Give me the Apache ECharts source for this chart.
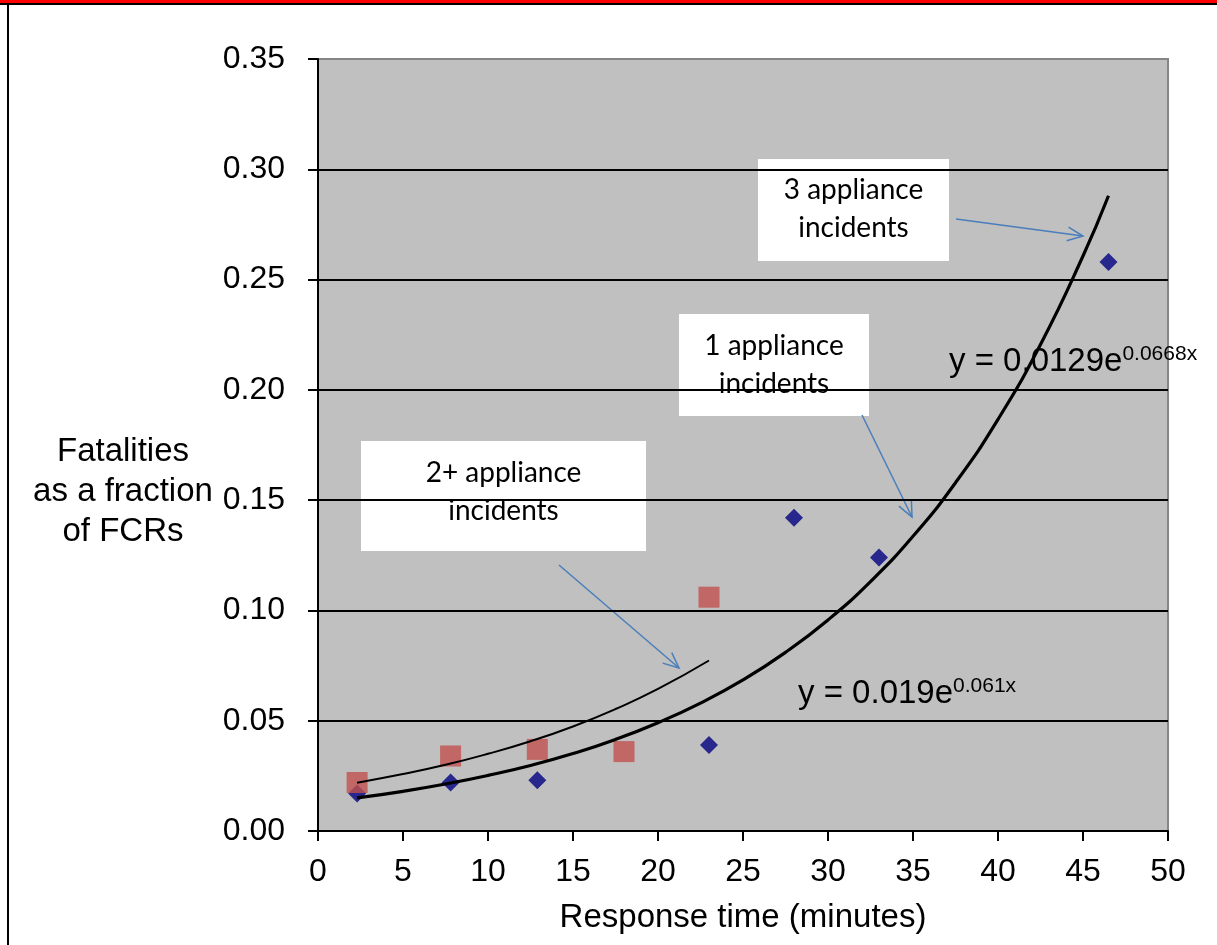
<!DOCTYPE html>
<html>
<head>
<meta charset="utf-8">
<script src="https://cdn.jsdelivr.net/npm/echarts@6/dist/echarts.min.js"></script>
<style>
html,body{margin:0;padding:0;background:#fff;}
#chart{width:1217px;height:945px;}
</style>
</head>
<body>
<div id="chart"></div>
<script>
// 1 appliance incidents (diamonds)
var oneTime = [2.3, 7.8, 12.9, 23, 28, 33, 46.5];
var oneFrac = [0.017, 0.022, 0.023, 0.039, 0.142, 0.124, 0.258];
// 2+ appliance incidents (squares)
var twoTime = [2.3, 7.8, 12.9, 18, 23];
var twoFrac = [0.022, 0.034, 0.037, 0.036, 0.106];
// trend curves
var trendOneX = [2.3, 5, 7.5, 10, 12.5, 15, 17.5, 20, 22.5, 25, 27.5, 30, 32.5, 35, 37.5, 40, 42.5, 45, 46.5];
var trendOneY = [0.015, 0.018, 0.0213, 0.0252, 0.0297, 0.0351, 0.0415, 0.0491, 0.058, 0.0685, 0.081, 0.0957, 0.1131, 0.1336, 0.1579, 0.1866, 0.2206, 0.2607, 0.288];
var trendTwoX = [2.3, 5, 7.5, 10, 12.5, 15, 17.5, 20, 23];
var trendTwoY = [0.0219, 0.0258, 0.03, 0.035, 0.0407, 0.0474, 0.0553, 0.0644, 0.0773];

function pairs(xs, ys){
    var out = [];
    for(var i=0;i<xs.length;i++){ out.push([xs[i], ys[i]]); }
    return out;
}

var FONT = '"Liberation Sans", Arial, sans-serif';
var BOXFONT = 'Lato, "Open Sans", sans-serif';
var ARROW = '#4a7ebb';

function arrow(x1, y1, x2, y2){
    var a = Math.atan2(y2-y1, x2-x1), L = 17, s = 0.42;
    return {
        type:'group', z:50,
        children:[
            {type:'line', shape:{x1:x1,y1:y1,x2:x2,y2:y2}, style:{stroke:ARROW, lineWidth:1.5}},
            {type:'polyline', shape:{points:[
                [x2 - L*Math.cos(a-s), y2 - L*Math.sin(a-s)], [x2, y2],
                [x2 - L*Math.cos(a+s), y2 - L*Math.sin(a+s)]
            ]}, style:{stroke:ARROW, fill:null, lineWidth:1.5}}
        ]
    };
}

function box(x, y, w, h, txt, cy){
    return {
        type:'group', z:40,
        children:[
            {type:'rect', shape:{x:x,y:y,width:w,height:h}, style:{fill:'#fff'}},
            {type:'text', x:x+w/2, y:cy, style:{text:txt, font:'28px ' + BOXFONT, fill:'#000',
                textAlign:'center', textVerticalAlign:'middle', lineHeight:38}}
        ]
    };
}

function equation(x, y, main, sup){
    return {
        type:'text', x:x, y:y, z:45,
        style:{
            text:'{m|' + main + '}{s|' + sup + '}',
            textVerticalAlign:'middle',
            rich:{
                m:{fontSize:33, fontFamily:FONT, fill:'#000', height:36},
                s:{fontSize:21, fontFamily:FONT, fill:'#000', verticalAlign:'top', padding:[0,0,16,0]}
            }
        }
    };
}

var myChart = echarts.init(document.getElementById('chart'));
var option = {
    backgroundColor:'#fff',
    animation:false,
    grid:{
        left:318, right:49, top:59, bottom:114,
        show:true, backgroundColor:'#c0c0c0', borderColor:'#868686', borderWidth:2
    },
    xAxis:{
        type:'value', min:0, max:50, interval:5,
        name:'Response time (minutes)', nameLocation:'middle', nameGap:70,
        nameTextStyle:{fontFamily:FONT, fontSize:33, color:'#000'},
        axisLine:{lineStyle:{color:'#000', width:2}},
        axisTick:{show:true, length:10, lineStyle:{color:'#000', width:2}},
        axisLabel:{fontFamily:FONT, fontSize:32, color:'#000', margin:25},
        splitLine:{show:false}
    },
    yAxis:{
        type:'value', min:0, max:0.35, interval:0.05,
        axisLine:{show:true, lineStyle:{color:'#000', width:2}},
        axisTick:{show:true, length:10, lineStyle:{color:'#000', width:2}},
        axisLabel:{fontFamily:FONT, fontSize:32, color:'#000', margin:33,
            formatter:function(v){ return v.toFixed(2); }},
        splitLine:{show:true, lineStyle:{width:2,
            color:['#000','#000','#000','#000','#000','#000','#000','#868686']}}
    },
    series:[
        {
            name:'1 appliance incidents', type:'scatter', symbol:'diamond', symbolSize:18,
            itemStyle:{color:'#000080'}, data:pairs(oneTime, oneFrac), z:3
        },
        {
            name:'2+ appliance incidents', type:'scatter', symbol:'rect', symbolSize:21,
            itemStyle:{color:'#c0504d'}, data:pairs(twoTime, twoFrac), z:3
        },
        {
            name:'1 appliance trend', type:'line', smooth:true, showSymbol:false,
            lineStyle:{color:'#000', width:3.2}, data:pairs(trendOneX, trendOneY), z:5
        },
        {
            name:'2+ appliance trend', type:'line', smooth:true, showSymbol:false,
            lineStyle:{color:'#000', width:2}, data:pairs(trendTwoX, trendTwoY), z:5
        }
    ],
    graphic:[
        {type:'rect', shape:{x:0,y:0,width:1217,height:3}, style:{fill:'#ff0000'}},
        {type:'rect', shape:{x:0,y:3,width:1217,height:2}, style:{fill:'#000'}},
        {type:'rect', shape:{x:7,y:4,width:2,height:941}, style:{fill:'#000'}},
        {type:'text', x:123, y:492, style:{
            text:'Fatalities\nas a fraction\nof FCRs', font:'33px ' + FONT, fill:'#000',
            textAlign:'center', textVerticalAlign:'middle', lineHeight:40}},
        box(758, 159, 191, 102, '3 appliance\nincidents', 209),
        box(679, 314, 190, 102, '1 appliance\nincidents', 365),
        box(361, 441, 285, 110, '2+ appliance\nincidents', 492),
        arrow(956, 219, 1083, 236),
        arrow(862, 415, 912, 517),
        arrow(559, 565, 679, 668),
        equation(949, 362, 'y = 0.0129e', '0.0668x'),
        equation(798, 694, 'y = 0.019e', '0.061x')
    ]
};
myChart.setOption(option);
</script>
</body>
</html>
